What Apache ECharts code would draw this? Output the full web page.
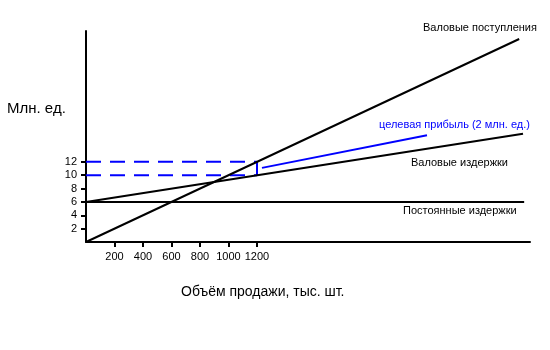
<!DOCTYPE html>
<html><head><meta charset="utf-8">
<script src="https://cdn.jsdelivr.net/npm/echarts@6/dist/echarts.min.js"></script>
<style>html,body{margin:0;padding:0;background:#fff}#c{width:550px;height:350px}</style>
</head><body><div id="c"></div>
<script>
var xTicks = [200, 400, 600, 800, 1000, 1200];
var yTicks = [2, 4, 6, 8, 10, 12];
var revenue = [[0, 0], [3040, 30.4]];
var totalCost = [[0, 6], [3067, 16.2]];
var fixedCost = [[0, 6], [3075, 6]];
var targetProfit = [[1235, 11.1], [2393, 16.0]];
var guide12 = [[0, 12], [1200, 12]];
var guide10 = [[0, 10], [1200, 10]];
var guideV = [[1200, 10], [1200, 12]];
var labels = {
  revenue: 'Валовые поступления',
  target: 'целевая прибыль (2 млн. ед.)',
  cost: 'Валовые издержки',
  fixed: 'Постоянные издержки',
  yName: 'Млн. ед.',
  xName: 'Объём продажи, тыс. шт.'
};
var FONT = '"Liberation Sans", Arial, sans-serif';
var chart = echarts.init(document.getElementById('c'), null, {renderer: 'canvas'});
function lineS(data, color, type, w) {
  return {type: 'line', data: data, symbol: 'none', silent: true, animation: false,
    lineStyle: {color: color, width: w || 2, type: type || 'solid', dashOffset: 0}, z: 3};
}
chart.setOption({
  animation: false,
  grid: {left: 86, right: 20, top: 31, bottom: 108},
  xAxis: {
    type: 'value', min: 0, max: 3116, interval: 200,
    splitLine: {show: false},
    axisLine: {lineStyle: {color: '#000', width: 2}},
    axisTick: {show: true, length: 5, lineStyle: {color: '#000', width: 2}, customValues: xTicks},
    axisLabel: {color: '#000', fontSize: 11, fontFamily: FONT, margin: 9, customValues: xTicks,
      formatter: function (v) { return String(v); }}
  },
  yAxis: {
    type: 'value', min: 0, max: 31.6, interval: 2,
    splitLine: {show: false},
    axisLine: {lineStyle: {color: '#000', width: 2}},
    axisTick: {show: true, length: 5, lineStyle: {color: '#000', width: 2}, customValues: yTicks},
    axisLabel: {color: '#000', fontSize: 11, fontFamily: FONT, margin: 9, customValues: yTicks,
      formatter: function (v) { return String(v); }}
  },
  series: [
    lineS(guide12, '#0000ff', [15, 9], 2),
    lineS(guide10, '#0000ff', [15, 9], 2),
    lineS(guideV, '#0000ff', 'solid', 2),
    lineS(revenue, '#000'),
    lineS(totalCost, '#000'),
    lineS(fixedCost, '#000'),
    lineS(targetProfit, '#0000ff')
  ],
  graphic: [
    {type: 'text', left: 423, top: 22, style: {text: labels.revenue, fill: '#000', font: '11px ' + FONT}},
    {type: 'text', left: 379, top: 119, style: {text: labels.target, fill: '#0000ff', font: '11px ' + FONT}},
    {type: 'text', left: 411, top: 157, style: {text: labels.cost, fill: '#000', font: '11px ' + FONT}},
    {type: 'text', left: 403, top: 205, style: {text: labels.fixed, fill: '#000', font: '11px ' + FONT}},
    {type: 'text', left: 7, top: 101, style: {text: labels.yName, fill: '#000', font: '15px ' + FONT}},
    {type: 'text', left: 181, top: 285, style: {text: labels.xName, fill: '#000', font: '14px ' + FONT}}
  ]
});
</script></body></html>
